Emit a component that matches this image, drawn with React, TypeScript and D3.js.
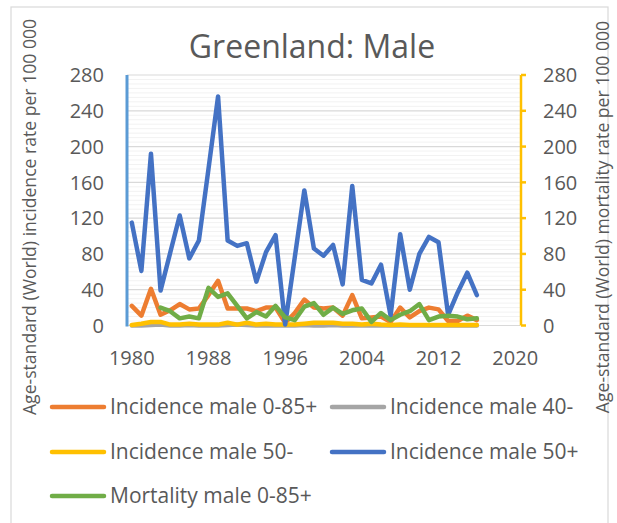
import { useMemo } from 'react';
import * as d3 from 'd3';

const W = 617;
const H = 523;
const PLOT = { left: 127, right: 520, top: 75, bottom: 325.5 };
const FONT = '"Open Sans", sans-serif';
const TEXT = '#595959';

// category axis 1980..2020, labels every 8 years
const YEARS = d3.range(1980, 2021);
const X_TICKS = [1980, 1988, 1996, 2004, 2012, 2020];
const Y_TICKS = [0, 40, 80, 120, 160, 200, 240, 280];
const DATA_YEARS = d3.range(1980, 2017);

const incidence085 = [22, 11, 41, 12, 17, 24, 18, 19, 34, 50, 19, 19, 19, 16, 20, 20, 3, 14, 29, 20, 19, 20, 11, 34, 8, 9, 10, 4, 20, 9, 16, 20, 18, 5, 5, 11, 6];
const incidence40 = [0, 0, 0.5, 1, 0, 0, 0.5, 0, 0, 0, 0.5, 1, 0.5, 0, 0, 0, 0, 0, 0.5, 0, 0, 0.5, 0, 0, 0, 0, 0, 0, 0, 0, 0, 0, 0, 0, 0, 0, 0];
const incidence50m = [0.5, 2, 4, 4, 1, 1, 2, 1, 1, 1, 3, 1, 3, 1, 2, 1, 1, 1, 2, 3, 3, 3, 2, 2, 1, 2, 1, 0.5, 1, 0.5, 0.5, 0.5, 0.5, 0.5, 0.5, 0.5, 0.5];
const incidence50p = [115, 61, 192, 39, 81, 123, 75, 95, 175, 256, 95, 89, 92, 49, 82, 101, 1, 76, 151, 86, 78, 90, 46, 156, 51, 47, 68, 11, 102, 40, 80, 99, 93, 12, 37, 59, 34];
const mortality085 = [null, null, null, 20, 16, 8, 10, 8, 42, 32, 36, 22, 8, 15, 10, 22, 9, 6, 21, 25, 12, 20, 13, 17, 19, 4, 14, 6, 12, 16, 24, 6, 10, 11, 10, 7, 8];

const SERIES = [
  { name: 'Incidence male 0-85+', values: incidence085, color: '#ED7D31' },
  { name: 'Incidence male 40-', values: incidence40, color: '#A5A5A5' },
  { name: 'Incidence male 50-', values: incidence50m, color: '#FFC000' },
  { name: 'Incidence male 50+', values: incidence50p, color: '#4472C4' },
  { name: 'Mortality male 0-85+', values: mortality085, color: '#70AD47' },
];

export default function App() {
  const x = useMemo(
    () => d3.scaleBand<number>().domain(YEARS).range([PLOT.left, PLOT.right]),
    []
  );
  const cx = (yr: number) => (x(yr) ?? 0) + x.bandwidth() / 2;
  const y = useMemo(
    () => d3.scaleLinear().domain([0, 280]).range([PLOT.bottom, PLOT.top]),
    []
  );

  const line = d3
    .line<number | null>()
    .defined((d) => d != null)
    .x((_, i) => cx(DATA_YEARS[i]))
    .y((d) => y(d as number))
    .curve(d3.curveLinear);

  const minor = d3.range(0, 281, 5).filter((v) => v % 40 !== 0);

  // legend: two columns, three rows
  const legendPos = [
    [50, 407],
    [330, 407],
    [50, 452],
    [330, 452],
    [50, 496],
  ];

  return (
    <svg
      width={W}
      height={H}
      style={{ position: 'absolute', left: 0, top: 0, background: '#fff' }}
      fontFamily={FONT}
    >
      <rect x={0} y={0} width={W} height={H} fill="#fff" />
      <rect x={11} y={7} width={597} height={540} fill="none" stroke="#D9D9D9" strokeWidth={1.2} />

      <text x={312} y={58} textAnchor="middle" fontSize={32} fill={TEXT}>
        Greenland: Male
      </text>

      {/* grid */}
      {minor.map((v) => (
        <line key={'m' + v} x1={PLOT.left} x2={PLOT.right} y1={y(v)} y2={y(v)} stroke="#F2F2F2" strokeWidth={1} />
      ))}
      {Y_TICKS.map((v) => (
        <line key={'g' + v} x1={PLOT.left} x2={PLOT.right} y1={y(v)} y2={y(v)} stroke="#D9D9D9" strokeWidth={1.2} />
      ))}

      {/* axes */}
      <line x1={PLOT.left} x2={PLOT.left} y1={PLOT.top} y2={PLOT.bottom + 1} stroke="#5B9BD5" strokeWidth={3} />
      <line x1={PLOT.right + 1} x2={PLOT.right + 1} y1={PLOT.top} y2={PLOT.bottom} stroke="#FFC000" strokeWidth={2.5} />
      {Y_TICKS.map((v) => (
        <line key={'rt' + v} x1={PLOT.right + 1} x2={PLOT.right + 6} y1={y(v)} y2={y(v)} stroke="#FFC000" strokeWidth={2.5} />
      ))}

      {Y_TICKS.map((v) => (
        <text key={'ly' + v} x={104} y={y(v)} dy="0.36em" textAnchor="end" fontSize={20} fill={TEXT}>
          {v}
        </text>
      ))}
      {Y_TICKS.map((v) => (
        <text key={'ry' + v} x={543} y={y(v)} dy="0.36em" textAnchor="start" fontSize={20} fill={TEXT}>
          {v}
        </text>
      ))}
      {X_TICKS.map((v) => (
        <text key={'x' + v} x={cx(v)} y={365} textAnchor="middle" fontSize={20} fill={TEXT}>
          {v}
        </text>
      ))}

      <text
        transform="translate(36,217) rotate(-90)"
        textAnchor="middle"
        fontSize={17.6}
        fill={TEXT}
      >
        Age-standard (World) incidence rate per 100 000
      </text>
      <text
        transform="translate(609,217) rotate(-90)"
        textAnchor="middle"
        fontSize={17.6}
        fill={TEXT}
      >
        Age-standard (World) mortality rate per 100 000
      </text>

      {/* series */}
      {SERIES.map((s) => (
        <path
          key={s.name}
          d={line(s.values) ?? ''}
          fill="none"
          stroke={s.color}
          strokeWidth={4.5}
          strokeLinejoin="round"
          strokeLinecap="round"
        />
      ))}

      {/* legend */}
      {SERIES.map((s, i) => {
        const [lx, ly] = legendPos[i];
        return (
          <g key={'lg' + s.name}>
            <line x1={lx + 2} x2={lx + 54} y1={ly} y2={ly} stroke={s.color} strokeWidth={4.5} strokeLinecap="round" />
            <text x={lx + 60} y={ly} dy="0.35em" fontSize={21} fill={TEXT}>
              {s.name}
            </text>
          </g>
        );
      })}
    </svg>
  );
}
